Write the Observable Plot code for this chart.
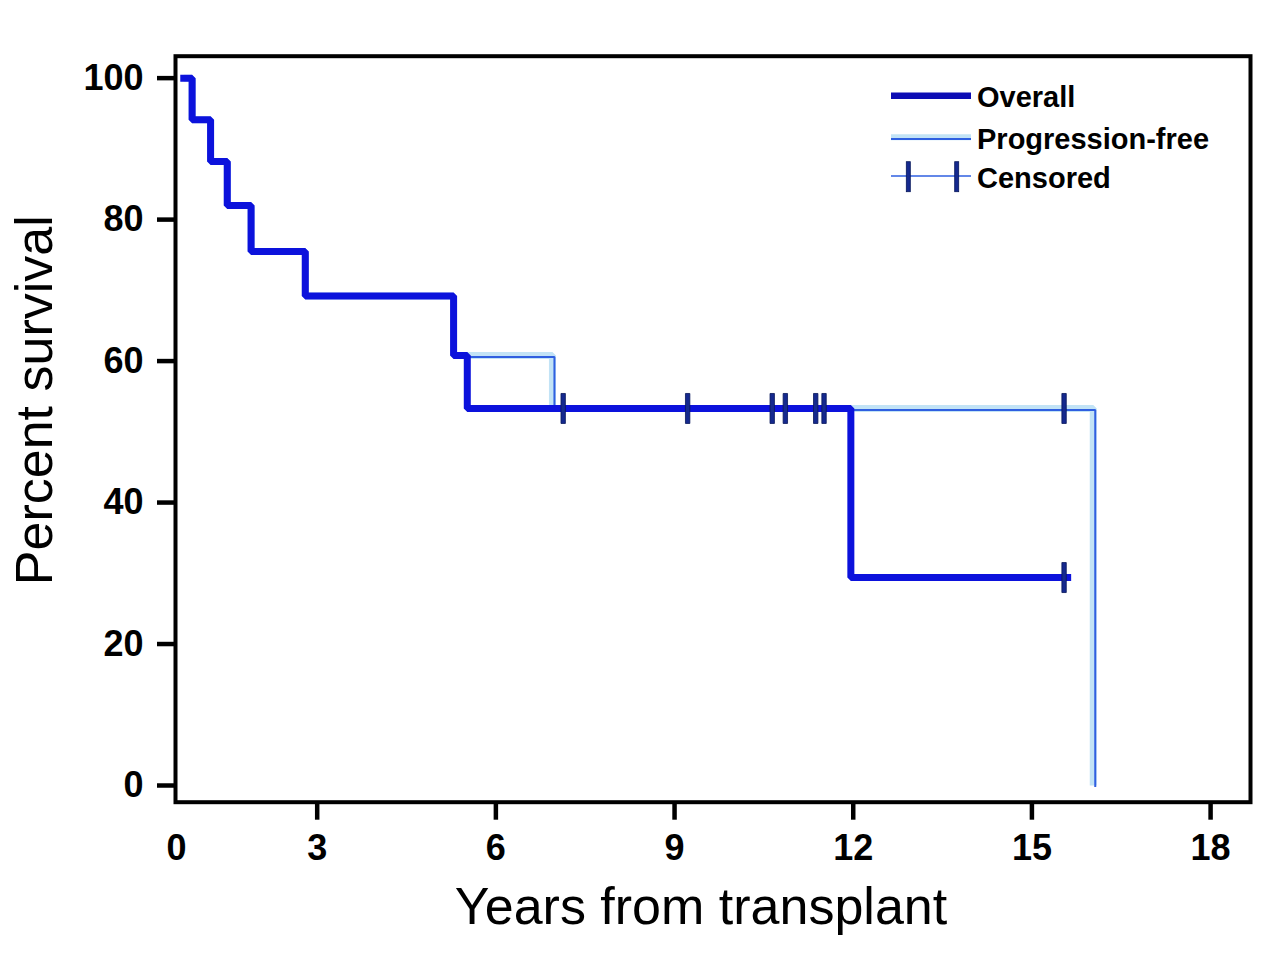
<!DOCTYPE html>
<html><head><meta charset="utf-8">
<script src="https://cdn.jsdelivr.net/npm/d3@7"></script>
<script src="https://cdn.jsdelivr.net/npm/@observablehq/plot@0.6"></script>
<style>
body{margin:0;background:#fff}
#wrap{position:relative;width:1280px;height:959px;font-family:"Liberation Sans",Arial,sans-serif}
#legend{position:absolute;left:0;top:0}
</style>
</head><body><div id="wrap"></div>
<script>
// Overall survival (Kaplan-Meier steps), years from transplant
const osTime = [0.76, 0.90, 1.21, 1.49, 1.89, 2.80, 5.29, 5.52, 11.96, 15.60];
const osSurv = [100, 94.1, 88.2, 82.0, 75.5, 69.2, 60.8, 53.3, 29.4, 29.4];
// Progression-free survival
const pfsTime = [0.76, 0.90, 1.21, 1.49, 1.89, 2.80, 5.29, 6.95, 16.03];
const pfsSurv = [100, 94.1, 88.2, 82.0, 75.5, 69.2, 60.8, 53.3, 0];
// Censored observations
const censorTime = [7.13, 9.22, 10.64, 10.86, 11.37, 11.51, 15.54, 15.54];
const censorSurv = [53.3, 53.3, 53.3, 53.3, 53.3, 53.3, 53.3, 29.4];
// Axis ticks
const xTicks = [3, 6, 9, 12, 15, 18];
const xOriginLabel = "0";
const yTicks = [0, 20, 40, 60, 80, 100];
const legendLabels = ["Overall", "Progression-free", "Censored"];

const os = osTime.map((t, i) => ({t, s: osSurv[i]}));
const pfs = pfsTime.map((t, i) => ({t, s: pfsSurv[i]}));
const cens = censorTime.map((t, i) => ({t, s: censorSurv[i]}));

const OS_COLOR = "#0c12dc";
const PFS_BAND = "#c2e3f6";
const PFS_LINE = "#2f5fe0";
const CENS_FILL = "#15298e";
const CENS_STROKE = "#07175a";
const TICK_FONT = 36;

const censorSymbol = {draw(ctx) { ctx.rect(-2.2, -15, 4.4, 30); }};

const chart = Plot.plot({
  width: 1280,
  height: 959,
  marginLeft: 175,
  marginRight: 30,
  marginTop: 55.7,
  marginBottom: 157.3,
  style: {fontFamily: "'Liberation Sans', Arial, sans-serif", color: "black", background: "white", overflow: "visible"},
  x: {domain: [0.621, 18.67]},
  y: {domain: [-2.36, 103.1]},
  marks: [
    Plot.line(pfs, {x: "t", y: "s", curve: "step-after", stroke: PFS_BAND, strokeWidth: 7, strokeLinejoin: "miter", strokeLinecap: "butt"}),
    Plot.line(pfs, {x: "t", y: "s", curve: "step-after", stroke: PFS_LINE, strokeWidth: 2, dx: 2, dy: 1.5, strokeLinejoin: "miter", strokeLinecap: "butt"}),
    Plot.line(os, {x: "t", y: "s", curve: "step-after", stroke: OS_COLOR, strokeWidth: 7, strokeLinejoin: "miter", strokeLinecap: "square"}),
    Plot.dot(cens, {x: "t", y: "s", symbol: censorSymbol, fill: CENS_FILL, stroke: CENS_STROKE, strokeWidth: 0.8, r: 4}),
    Plot.frame({stroke: "black", strokeWidth: 4}),
    Plot.axisY(yTicks, {tickSize: 18, tickPadding: 14, strokeWidth: 4.5, fontSize: TICK_FONT, fontWeight: "bold", label: null}),
    Plot.axisX(xTicks, {tickSize: 18, tickPadding: 14, strokeWidth: 4.5, fontSize: TICK_FONT, fontWeight: "bold", label: null}),
    Plot.text([xOriginLabel], {text: d => d, frameAnchor: "bottom-left", dx: 1, dy: 32, textAnchor: "middle", lineAnchor: "top", fontSize: TICK_FONT, fontWeight: "bold", fill: "black"}),
    Plot.text(["Percent survival"], {text: d => d, frameAnchor: "left", dx: -140, dy: -29, rotate: -90, fontSize: 52, textAnchor: "middle", lineAnchor: "middle", fill: "black"}),
    Plot.text(["Years from transplant"], {text: d => d, frameAnchor: "bottom", dx: -12, dy: 105, fontSize: 52, textAnchor: "middle", lineAnchor: "middle", fill: "black"})
  ]
});
const wrap = document.getElementById("wrap");
wrap.appendChild(chart);

// Legend overlay (top-right inside the frame)
const lg = d3.select(wrap).append("svg").attr("id", "legend").attr("width", 1280).attr("height", 959)
  .style("pointer-events", "none");
const x0 = 891, x1 = 971, tx = 977;
lg.append("line").attr("x1", x0).attr("x2", x1).attr("y1", 95.7).attr("y2", 95.7)
  .attr("stroke", "#0c0cb4").attr("stroke-width", 6.5);
lg.append("line").attr("x1", x0).attr("x2", x1).attr("y1", 137.3).attr("y2", 137.3)
  .attr("stroke", PFS_BAND).attr("stroke-width", 6);
lg.append("line").attr("x1", x0).attr("x2", x1).attr("y1", 139).attr("y2", 139)
  .attr("stroke", PFS_LINE).attr("stroke-width", 2);
lg.append("line").attr("x1", x0).attr("x2", x1).attr("y1", 176).attr("y2", 176)
  .attr("stroke", PFS_LINE).attr("stroke-width", 1.5);
[908.3, 956.7].forEach(cx => {
  lg.append("rect").attr("x", cx - 2).attr("y", 161.7).attr("width", 4).attr("height", 30)
    .attr("fill", CENS_FILL).attr("stroke", CENS_STROKE).attr("stroke-width", 0.8);
});
const baselines = [106.5, 148.5, 188];
legendLabels.forEach((t, i) => {
  lg.append("text").attr("x", tx).attr("y", baselines[i]).text(t)
    .attr("font-family", "'Liberation Sans', Arial, sans-serif").attr("font-weight", "bold")
    .attr("font-size", 29).attr("fill", "black");
});
</script>
</body></html>
